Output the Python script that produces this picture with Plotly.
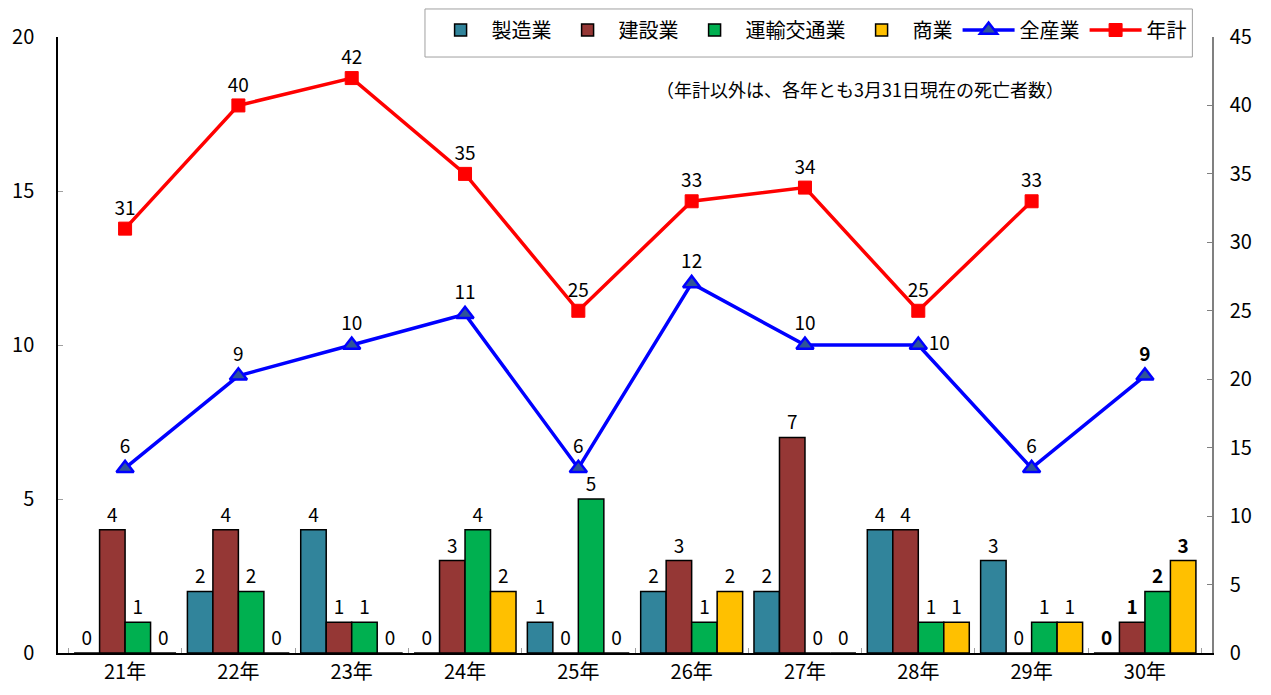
import plotly.graph_objects as go

categories = ["21年", "22年", "23年", "24年", "25年", "26年", "27年", "28年", "29年", "30年"]
seizo = [0, 2, 4, 0, 1, 2, 2, 4, 3, 0]
kensetsu = [4, 4, 1, 3, 0, 3, 7, 4, 0, 1]
unyu = [1, 2, 1, 4, 5, 1, 0, 1, 1, 2]
shogyo = [0, 0, 0, 2, 0, 2, 0, 1, 1, 3]
zensangyo = [6, 9, 10, 11, 6, 12, 10, 10, 6, 9]
nenkei = [31, 40, 42, 35, 25, 33, 34, 25, 33, None]

FONT = "Noto Sans CJK JP, Noto Sans, sans-serif"


def labels(vals, bold_last=True):
    out = []
    for i, v in enumerate(vals):
        if v is None:
            out.append("")
        elif bold_last and i == len(vals) - 1:
            out.append(f"<b>{v}</b>")
        else:
            out.append(str(v))
    return out


fig = go.Figure()

bar_series = [
    ("製造業", seizo, "#31849B"),
    ("建設業", kensetsu, "#953735"),
    ("運輸交通業", unyu, "#00B050"),
    ("商業", shogyo, "#FFC000"),
]
for name, vals, color in bar_series:
    fig.add_trace(go.Bar(
        x=categories, y=vals, name=name,
        marker=dict(color=color, line=dict(color="black", width=1.5)),
        text=labels(vals), textposition="outside",
        textfont=dict(size=19, color="black", family=FONT),
        cliponaxis=False,
    ))

blue_pos = ["top center"] * len(categories)
blue_pos[7] = "middle right"
fig.add_trace(go.Scatter(
    x=categories, y=zensangyo, name="全産業", mode="lines+markers+text",
    line=dict(color="#0000FF", width=3.5),
    marker=dict(symbol="triangle-up", size=15, color="#2F5597",
                line=dict(color="#0000FF", width=2.5)),
    text=labels(zensangyo), textposition=blue_pos,
    textfont=dict(size=19, color="black", family=FONT),
    cliponaxis=False,
))

fig.add_trace(go.Scatter(
    x=categories, y=nenkei, name="年計", mode="lines+markers+text",
    yaxis="y2",
    line=dict(color="#FF0000", width=3.5),
    marker=dict(symbol="square", size=13, color="#FF0000",
                line=dict(color="#FF0000", width=1)),
    text=labels(nenkei, bold_last=False), textposition="top center",
    textfont=dict(size=19, color="black", family=FONT),
    cliponaxis=False, connectgaps=False,
))

fig.update_layout(
    width=1271, height=695,
    margin=dict(l=50, r=67, t=29, b=50, autoexpand=False),
    paper_bgcolor="white", plot_bgcolor="white",
    font=dict(family=FONT, size=19, color="black"),
    barmode="group", bargap=0.1, bargroupgap=0,
    showlegend=True,
    legend=dict(
        orientation="h", x=0.322, y=1.043, xanchor="left", yanchor="top",
        bgcolor="rgba(255,255,255,0)", borderwidth=0,
        font=dict(size=20, family=FONT), itemwidth=52,
        traceorder="normal",
    ),
    shapes=[dict(
        type="rect", xref="paper", yref="paper",
        x0=0.318, x1=0.983, y0=0.9675, y1=1.0455,
        line=dict(color="#A0A0A0", width=1), fillcolor="rgba(0,0,0,0)",
        layer="above",
    )],
    xaxis=dict(
        type="category", showline=True, linecolor="black", linewidth=1.5,
        ticks="inside", tickson="boundaries", ticklen=5, tickcolor="#A0A0A0",
        tickfont=dict(size=20), showgrid=False, zeroline=False,
    ),
    yaxis=dict(
        range=[0, 20], dtick=5, showline=True, linecolor="black", linewidth=1.5,
        ticks="inside", ticklen=5, tickcolor="#A0A0A0", showgrid=False,
        zeroline=False, tickfont=dict(size=20), ticklabelstandoff=18,
    ),
    yaxis2=dict(
        range=[0, 45], dtick=5, overlaying="y", side="right", showline=True,
        linecolor="#808080", linewidth=1.5, ticks="inside", ticklen=5,
        tickcolor="#808080", showgrid=False, zeroline=False,
        tickfont=dict(size=20), ticklabelstandoff=12,
    ),
    annotations=[dict(
        text="（年計以外は、各年とも3月31日現在の死亡者数）",
        xref="paper", yref="paper", x=0.695, y=0.915,
        xanchor="center", yanchor="middle", showarrow=False,
        font=dict(size=18, family=FONT, color="black"),
    )],
)

fig.write_html("out.html")
